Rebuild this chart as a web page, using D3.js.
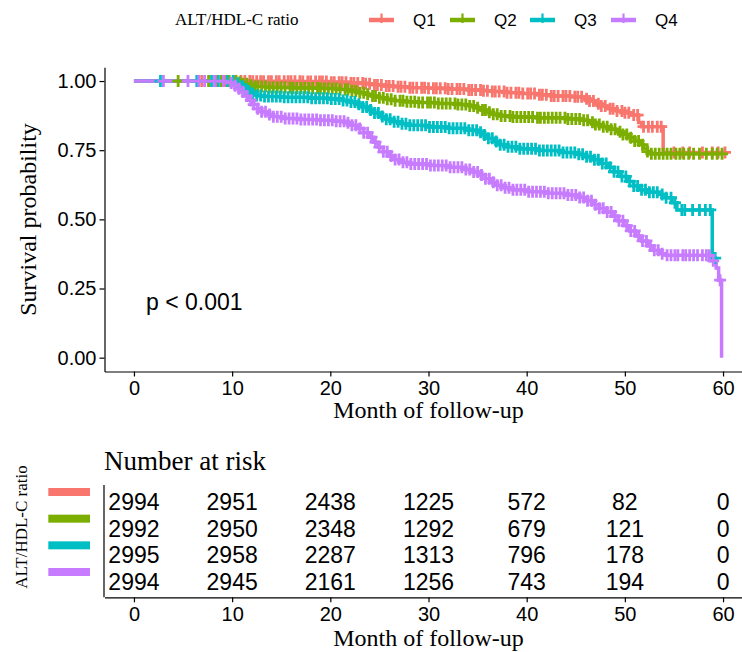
<!DOCTYPE html>
<html><head><meta charset="utf-8">
<script src="https://cdn.jsdelivr.net/npm/d3@7"></script>
<style>html,body{margin:0;padding:0;background:#fff;}svg{display:block;}</style>
</head><body>
<script>
// ---------- data ----------
const groups = ["Q1", "Q2", "Q3", "Q4"];
const colors = ["#F8766D", "#7CAE00", "#00BFC4", "#C77CFF"];
const legendTitle = "ALT/HDL-C ratio";
const xTicks = [0, 10, 20, 30, 40, 50, 60];
const yTicks = [0, 0.25, 0.5, 0.75, 1];

// [month, survival] step points
const q1Steps = [[0,1],[12,0.999],[17,0.998],[20,0.996],[22,0.993],[23.5,0.99],[24.5,0.986],[25.5,0.982],[26.5,0.979],[28,0.976],[30,0.974],[32,0.971],[34,0.968],[35.5,0.965],[36.5,0.962],[38,0.958],[39.5,0.955],[41,0.95],[42.5,0.946],[44.5,0.943],[45.8,0.936],[46.4,0.928],[47,0.918],[47.6,0.91],[48.3,0.9],[49.2,0.892],[50,0.885],[50.7,0.877],[51.4,0.85],[51.7,0.835],[53.9,0.742]];
const q1End = 60.2;
const q1Censor = [6.9, 8.4, 9.3, 10.2, 10.9, 11.3, 11.8, 12.1, 12.5, 12.9, 13.2, 13.7, 14.0, 14.5, 14.8, 15.3, 15.7, 16.0, 16.4, 16.9, 17.2, 17.7, 18.0, 18.5, 18.9, 19.2, 19.6, 20.1, 20.4, 20.9, 21.2, 21.6, 22.1, 22.4, 22.8, 23.3, 23.6, 24.0, 24.5, 24.8, 25.2, 25.7, 26.0, 26.4, 26.9, 27.2, 27.6, 28.1, 28.4, 28.8, 29.3, 29.6, 30.0, 30.5, 30.8, 31.2, 31.7, 32.0, 32.4, 32.9, 33.2, 33.6, 34.1, 34.4, 34.8, 35.3, 35.6, 36.0, 36.5, 36.8, 37.2, 37.7, 38.0, 38.4, 38.9, 39.2, 39.6, 40.1, 40.4, 40.8, 41.3, 41.6, 42.0, 42.5, 42.8, 43.2, 43.7, 44.0, 44.4, 44.9, 45.2, 45.6, 46.1, 46.4, 46.8, 47.3, 47.6, 48.0, 48.5, 48.8, 49.2, 49.7, 50.0, 50.4, 50.9, 51.3, 51.9, 52.4, 52.8, 53.3, 53.7, 55.0, 55.9, 56.6, 57.9, 58.9, 59.5, 60.2];

const q2Steps = [[0,1],[10.5,0.996],[11,0.99],[11.6,0.985],[12.3,0.98],[13.5,0.977],[16,0.975],[19,0.973],[21,0.969],[22,0.964],[22.8,0.958],[23.5,0.952],[24.2,0.946],[25,0.94],[25.8,0.934],[26.6,0.929],[27.5,0.925],[29,0.922],[31,0.919],[33,0.915],[34.2,0.91],[34.8,0.903],[35.4,0.895],[36,0.887],[36.6,0.88],[37.3,0.874],[38.5,0.87],[41,0.867],[44,0.863],[45.5,0.858],[46.3,0.851],[47,0.843],[47.7,0.835],[48.4,0.826],[49.1,0.817],[49.8,0.807],[50.5,0.795],[51,0.783],[51.5,0.77],[51.9,0.757],[52.3,0.745],[52.6,0.737]];
const q2End = 59.9;
const q2Censor = [4.5, 7.6, 8.9, 9.7, 10.4, 10.8, 11.1, 11.5, 11.9, 12.3, 12.6, 13.0, 13.4, 13.8, 14.2, 14.6, 15.0, 15.4, 15.9, 16.2, 16.6, 17.0, 17.4, 17.8, 18.2, 18.7, 19.0, 19.4, 19.8, 20.2, 20.6, 21.0, 21.5, 21.8, 22.2, 22.6, 23.0, 23.4, 23.8, 24.3, 24.6, 25.0, 25.4, 25.8, 26.2, 26.6, 27.1, 27.4, 27.8, 28.2, 28.6, 29.0, 29.4, 29.9, 30.2, 30.6, 31.0, 31.4, 31.8, 32.2, 32.7, 33.0, 33.4, 33.8, 34.2, 34.6, 35.0, 35.5, 35.8, 36.2, 36.6, 37.0, 37.4, 37.8, 38.3, 38.6, 39.0, 39.4, 39.8, 40.2, 40.6, 41.1, 41.4, 41.8, 42.2, 42.6, 43.0, 43.4, 43.9, 44.2, 44.6, 45.0, 45.4, 45.8, 46.2, 46.7, 47.0, 47.4, 47.8, 48.2, 48.6, 49.0, 49.5, 49.8, 50.2, 50.6, 51.0, 51.4, 51.8, 52.3, 52.7, 53.1, 53.5, 53.9, 54.3, 54.7, 55.2, 55.6, 56.0, 56.5, 57.0, 57.6, 58.3, 58.9, 59.4, 59.9];

const q3Steps = [[0,1],[10.4,0.992],[10.8,0.982],[11.2,0.972],[11.6,0.963],[12,0.955],[12.5,0.948],[13.2,0.944],[15,0.941],[18,0.938],[20,0.935],[21.3,0.93],[22,0.924],[22.7,0.916],[23.3,0.906],[23.9,0.895],[24.5,0.884],[25.1,0.872],[25.7,0.862],[26.3,0.853],[27,0.846],[28,0.84],[30,0.834],[32,0.829],[34,0.822],[35,0.815],[35.6,0.805],[36.1,0.793],[36.6,0.781],[37.2,0.77],[38,0.762],[39,0.755],[41,0.749],[43.5,0.742],[45,0.735],[46,0.726],[46.8,0.715],[47.5,0.702],[48.2,0.688],[48.9,0.672],[49.6,0.655],[50.3,0.637],[50.9,0.621],[51.5,0.607],[52.3,0.598],[53.5,0.59],[54.2,0.578],[54.8,0.56],[55.3,0.534],[58.9,0.36]];
const q3End = 59.4;
const q3Censor = [2.7, 6.4, 7.9, 8.6, 9.5, 10.1, 10.6, 11.0, 11.4, 11.7, 12.1, 12.5, 12.9, 13.3, 13.7, 14.1, 14.5, 14.9, 15.3, 15.7, 16.1, 16.5, 16.9, 17.3, 17.7, 18.1, 18.5, 18.9, 19.3, 19.7, 20.1, 20.5, 20.9, 21.3, 21.7, 22.1, 22.5, 22.9, 23.3, 23.7, 24.1, 24.5, 24.9, 25.3, 25.7, 26.1, 26.5, 26.9, 27.3, 27.7, 28.1, 28.5, 28.9, 29.3, 29.7, 30.1, 30.5, 30.9, 31.3, 31.7, 32.1, 32.5, 32.9, 33.3, 33.7, 34.1, 34.5, 34.9, 35.3, 35.7, 36.1, 36.5, 36.9, 37.3, 37.7, 38.1, 38.5, 38.9, 39.3, 39.7, 40.1, 40.5, 40.9, 41.3, 41.7, 42.1, 42.5, 42.9, 43.3, 43.7, 44.1, 44.5, 44.9, 45.3, 45.7, 46.1, 46.5, 46.9, 47.3, 47.7, 48.1, 48.5, 48.9, 49.3, 49.7, 50.1, 50.5, 50.9, 51.3, 51.7, 52.1, 52.5, 52.9, 53.3, 53.8, 54.2, 54.7, 55.1, 55.8, 56.1, 56.9, 57.6, 58.2, 58.7, 59.2];

const q4Steps = [[0,1],[9.8,0.993],[10.2,0.983],[10.6,0.972],[11,0.96],[11.4,0.946],[11.8,0.93],[12.2,0.915],[12.6,0.9],[13,0.889],[13.5,0.879],[14.2,0.871],[15.2,0.865],[17,0.861],[19,0.858],[20.5,0.855],[21.5,0.849],[22.2,0.84],[22.8,0.828],[23.4,0.813],[23.9,0.797],[24.4,0.779],[24.9,0.761],[25.4,0.744],[25.9,0.729],[26.5,0.716],[27.2,0.706],[28,0.7],[30,0.695],[32,0.688],[33.5,0.68],[34.5,0.671],[35.2,0.66],[35.8,0.647],[36.4,0.634],[37,0.623],[37.7,0.614],[38.6,0.607],[40,0.6],[42,0.594],[44,0.588],[45.2,0.579],[46,0.567],[46.7,0.553],[47.4,0.54],[48.1,0.527],[48.7,0.512],[49.3,0.495],[49.9,0.477],[50.5,0.458],[51.1,0.44],[51.7,0.422],[52.3,0.404],[52.9,0.388],[53.5,0.376],[54.2,0.37],[58.7,0.35],[59.3,0.324],[59.55,0.28],[59.85,0]];
const q4End = 59.85;
const q4Censor = [3.0, 5.5, 6.6, 7.2, 8.2, 9.1, 9.9, 10.3, 10.7, 11.1, 11.5, 11.9, 12.2, 12.6, 13.0, 13.4, 13.8, 14.2, 14.6, 15.0, 15.4, 15.8, 16.2, 16.6, 17.0, 17.4, 17.8, 18.2, 18.6, 19.0, 19.4, 19.8, 20.2, 20.6, 21.0, 21.4, 21.8, 22.2, 22.6, 23.0, 23.4, 23.8, 24.2, 24.6, 25.0, 25.4, 25.8, 26.2, 26.6, 27.0, 27.4, 27.8, 28.2, 28.6, 29.0, 29.4, 29.8, 30.2, 30.6, 31.0, 31.4, 31.8, 32.2, 32.6, 33.0, 33.4, 33.8, 34.2, 34.6, 35.0, 35.4, 35.8, 36.2, 36.6, 37.0, 37.4, 37.8, 38.2, 38.6, 39.0, 39.4, 39.8, 40.2, 40.6, 41.0, 41.4, 41.8, 42.2, 42.6, 43.0, 43.4, 43.8, 44.2, 44.6, 45.0, 45.4, 45.8, 46.2, 46.6, 47.0, 47.4, 47.8, 48.2, 48.6, 49.0, 49.4, 49.8, 50.2, 50.6, 51.0, 51.4, 51.8, 52.2, 52.6, 53.0, 53.4, 53.8, 54.3, 54.7, 55.1, 55.4, 55.9, 56.2, 56.6, 57.0, 57.4, 57.9, 58.3, 58.6, 59.0, 59.7];

const riskTimes = [0, 10, 20, 30, 40, 50, 60];
const riskQ1 = [2994, 2951, 2438, 1225, 572, 82, 0];
const riskQ2 = [2992, 2950, 2348, 1292, 679, 121, 0];
const riskQ3 = [2995, 2958, 2287, 1313, 796, 178, 0];
const riskQ4 = [2994, 2945, 2161, 1256, 743, 194, 0];
const pText = "p < 0.001";

// ---------- build ----------
const series = [
  {name: groups[0], color: colors[0], steps: q1Steps, end: q1End, c: q1Censor, risk: riskQ1},
  {name: groups[1], color: colors[1], steps: q2Steps, end: q2End, c: q2Censor, risk: riskQ2},
  {name: groups[2], color: colors[2], steps: q3Steps, end: q3End, c: q3Censor, risk: riskQ3},
  {name: groups[3], color: colors[3], steps: q4Steps, end: q4End, c: q4Censor, risk: riskQ4}
];

const SANS = "'Liberation Sans', Arial, Helvetica, sans-serif";
const SERIF = "'Liberation Serif', 'Times New Roman', Times, serif";
const W = 742, H = 652;

const svg = d3.select("body").append("svg").attr("width", W).attr("height", H)
  .attr("viewBox", `0 0 ${W} ${H}`);

const x = d3.scaleLinear().domain([-3, 63]).range([104.5, 752.5]);
const y = d3.scaleLinear().domain([-0.05, 1.05]).range([371.5, 67.2]);

function survAt(d, t) {
  let v = d.steps[0][1];
  for (const p of d.steps) if (p[0] <= t) v = p[1];
  return v;
}

// curves
const line = d3.line().x(p => x(p[0])).y(p => y(p[1])).curve(d3.curveStepAfter);
const curveG = svg.append("g");
series.forEach(d => {
  const pts = d.steps.slice();
  pts.push([d.end, d.steps[d.steps.length - 1][1]]);
  curveG.append("path").attr("d", line(pts)).attr("fill", "none")
    .attr("stroke", d.color).attr("stroke-width", 3.5).attr("stroke-linejoin", "miter");
});
// censor marks
const cs = 6;
series.forEach(d => {
  curveG.append("g").selectAll("path").data(d.c).join("path")
    .attr("d", t => {
      const px = x(t), py = y(survAt(d, t));
      return `M${px - cs},${py}H${px + cs}M${px},${py - cs}V${py + cs}`;
    })
    .attr("stroke", d.color).attr("stroke-width", 2.8).attr("fill", "none");
});

// axes (main)
function styleAxis(g, fs) {
  g.selectAll("path.domain").attr("stroke", "#000").attr("stroke-width", 1.2);
  g.selectAll(".tick line").attr("stroke", "#000").attr("stroke-width", 1.2);
  g.selectAll(".tick text").attr("fill", "#000").style("font-family", SANS).style("font-size", fs + "px");
}
const yAxisG = svg.append("g").attr("transform", "translate(104.5,0)")
  .call(d3.axisLeft(y).tickValues(yTicks).tickSize(5).tickSizeOuter(0).tickPadding(3).tickFormat(d3.format(".2f")));
styleAxis(yAxisG, 20);
const xAxisG = svg.append("g").attr("transform", "translate(0,371.5)")
  .call(d3.axisBottom(x).tickValues(xTicks).tickSize(5).tickSizeOuter(0).tickPadding(4).tickFormat(d3.format("d")));
styleAxis(xAxisG, 20);

svg.append("text").attr("transform", "translate(28,219.5) rotate(-90)")
  .attr("text-anchor", "middle").attr("dominant-baseline", "central")
  .style("font-family", SERIF).style("font-size", "24px").text("Survival probability");
svg.append("text").attr("x", 428.5).attr("y", 418).attr("text-anchor", "middle")
  .style("font-family", SERIF).style("font-size", "24px").text("Month of follow-up");

svg.append("text").attr("x", 146).attr("y", 310)
  .style("font-family", SANS).style("font-size", "23px").text(pText);

// top legend
const lg = svg.append("g");
lg.append("text").attr("x", 175).attr("y", 25)
  .style("font-family", SERIF).style("font-size", "17px").text(legendTitle);
const legX = [369, 450, 530, 611];
series.forEach((d, i) => {
  const x0 = legX[i], cy = 20;
  lg.append("line").attr("x1", x0).attr("x2", x0 + 25).attr("y1", cy).attr("y2", cy)
    .attr("stroke", d.color).attr("stroke-width", 4.5);
  lg.append("path").attr("d", `M${x0 + 12.5},${cy - 6.5}V${cy + 3}`).attr("stroke", d.color).attr("stroke-width", 2.2);
  lg.append("text").attr("x", x0 + 44).attr("y", cy).attr("dominant-baseline", "central")
    .style("font-family", SANS).style("font-size", "17px").text(d.name);
});

// ---------- risk table ----------
const ry = d3.scalePoint().domain(groups).range([501.7, 581.7]);
svg.append("text").attr("x", 104).attr("y", 469.5)
  .style("font-family", SERIF).style("font-size", "27px").text("Number at risk");

const rAxisY = 597.3;
svg.append("line").attr("x1", 104).attr("x2", 104).attr("y1", 485).attr("y2", rAxisY)
  .attr("stroke", "#000").attr("stroke-width", 1.2);
const rxAxisG = svg.append("g").attr("transform", `translate(0,${rAxisY})`)
  .call(d3.axisBottom(x).tickValues(xTicks).tickSize(5).tickSizeOuter(0).tickPadding(5).tickFormat(d3.format("d")));
styleAxis(rxAxisG, 20);

series.forEach(d => {
  svg.append("g").selectAll("text").data(riskTimes).join("text")
    .attr("x", t => x(t)).attr("y", ry(d.name)).attr("dy", "0.36em")
    .attr("text-anchor", "middle")
    .style("font-family", SANS).style("font-size", "23px")
    .text((t, i) => d.risk[i]);
  svg.append("rect").attr("x", 48.3).attr("width", 41.7)
    .attr("y", ry(d.name) - 13.7).attr("height", 8).attr("fill", d.color);
});

svg.append("text").attr("transform", "translate(21,527) rotate(-90)")
  .attr("text-anchor", "middle").attr("dominant-baseline", "central")
  .style("font-family", SERIF).style("font-size", "17px").text(legendTitle);

svg.append("text").attr("x", 428.5).attr("y", 646).attr("text-anchor", "middle")
  .style("font-family", SERIF).style("font-size", "24px").text("Month of follow-up");
</script>
</body></html>
